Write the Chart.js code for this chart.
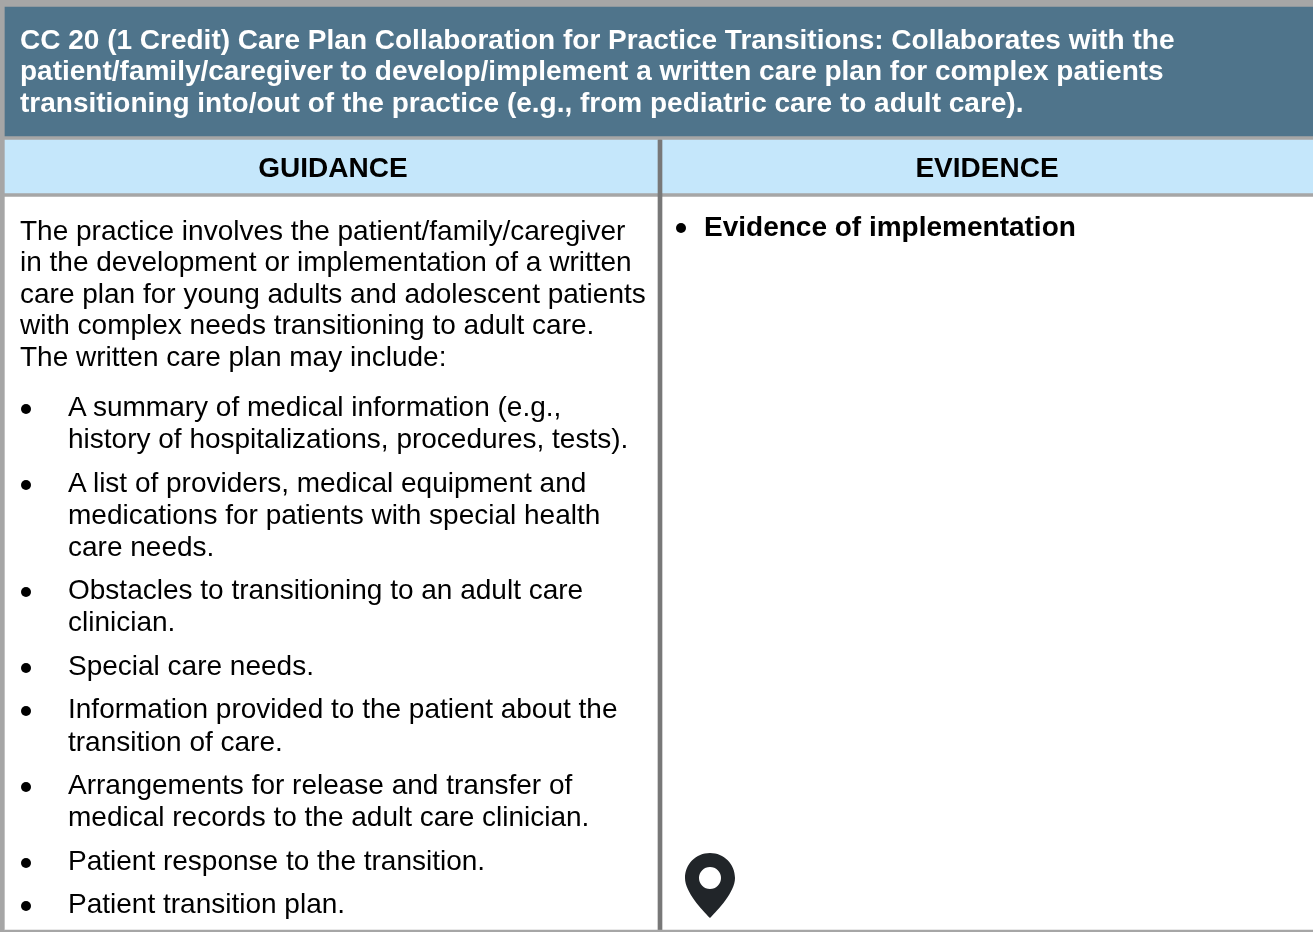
<!DOCTYPE html>
<html><head><meta charset="utf-8">
<script src="https://cdn.jsdelivr.net/npm/chart.js@4"></script>
<style>
html,body{margin:0;padding:0;background:#fff;overflow:hidden}
#wrap{position:relative;width:1313px;height:932px;font-family:"Liberation Sans",Arial,sans-serif}
canvas{position:absolute;left:0;top:0}
.t{position:absolute;white-space:nowrap;line-height:1;transform:translateY(-50%)}
.c{transform:translate(-50%,-50%)}
svg{position:absolute}
.b{position:absolute;width:10px;height:10px;border-radius:50%;background:#000;transform:translate(-50%,-50%)}
</style></head><body>
<div id="wrap"><canvas id="c" width="1313" height="932"></canvas></div>
<script>
const panelNames=["frame","title","guidanceHead","evidenceHead","guidanceBody","evidenceBody","divider","bottomRule"];
const panelLeft=[0,5,5,662,5,662,658,5];
const panelRight=[1313,1313,658,1313,658,1313,662,1313];
const panelTop=[0,7,140,140,197,197,140,930];
const panelBottom=[932,136,193,193,930,930,930,932];
const panelColors=["#a6a6a6","#4f748b","#c5e7fb","#c5e7fb","#ffffff","#ffffff","#787878","#a6a6a6"];

const titleLines=["CC 20 (1 Credit) Care Plan Collaboration for Practice Transitions: Collaborates with the",
"patient/family/caregiver to develop/implement a written care plan for complex patients",
"transitioning into/out of the practice (e.g., from pediatric care to adult care)."];
const titleY=[40,71,103];
const headLabels=["GUIDANCE","EVIDENCE"];
const headX=[333,987];
const introLines=["The practice involves the patient/family/caregiver","in the development or implementation of a written","care plan for young adults and adolescent patients","with complex needs transitioning to adult care.","The written care plan may include:"];
const introY=[231,262,294,325,357];
const itemLines=["A summary of medical information (e.g.,","history of hospitalizations, procedures, tests).","A list of providers, medical equipment and","medications for patients with special health","care needs.","Obstacles to transitioning to an adult care","clinician.","Special care needs.","Information provided to the patient about the","transition of care.","Arrangements for release and transfer of","medical records to the adult care clinician.","Patient response to the transition.","Patient transition plan."];
const itemY=[407,439,483,515,547,590,622,666,709,742,785,817,861,904];
const bulletFlags=[1,0,1,0,0,1,0,1,1,0,1,0,1,1];
const evidenceText="Evidence of implementation";

new Chart(document.getElementById('c'),{
 type:'bar',
 data:{datasets:panelNames.map((n,i)=>({
   label:n,
   data:[{x:(panelLeft[i]+panelRight[i])/2,y:[panelBottom[i],panelTop[i]]}],
   backgroundColor:panelColors[i],
   barThickness:panelRight[i]-panelLeft[i],
   grouped:false,borderWidth:0,order:panelNames.length-i
 }))},
 options:{responsive:false,animation:false,
  layout:{padding:0},
  plugins:{legend:{display:false},tooltip:{enabled:false}},
  scales:{x:{type:'linear',min:0,max:1313,display:false,offset:false},
          y:{type:'linear',min:0,max:932,reverse:true,display:false}}}
});

const wrap=document.getElementById('wrap');
function put(s,x,y,size,opt={}){
 const d=document.createElement('div');d.className='t'+(opt.center?' c':'');
 d.textContent=s;d.style.left=x+'px';d.style.top=y+'px';d.style.fontSize=size+'px';
 if(opt.bold)d.style.fontWeight='700';d.style.color=opt.color||'#000';wrap.appendChild(d);
}
function dot(x,y){const d=document.createElement('div');d.className='b';d.style.left=x+'px';d.style.top=y+'px';wrap.appendChild(d);}
titleLines.forEach((s,i)=>put(s,20,titleY[i],28,{bold:true,color:'#fff'}));
headLabels.forEach((s,i)=>put(s,headX[i],168,28,{bold:true,center:true}));
introLines.forEach((s,i)=>put(s,20,introY[i],28));
itemLines.forEach((s,i)=>{put(s,68,itemY[i],28);if(bulletFlags[i])dot(26,itemY[i]+2);});
dot(681,228);
put(evidenceText,704,227,28,{bold:true});
wrap.insertAdjacentHTML('beforeend','<svg style="left:685px;top:853px" width="50" height="66" viewBox="0 0 50 66"><path fill="#212529" fill-rule="evenodd" d="M25 0C11 0 0 11 0 25C0 39 17 57 25 65C33 57 50 39 50 25C50 11 39 0 25 0ZM25 14A11 11 0 1 1 25 36A11 11 0 1 1 25 14Z"/></svg>');
</script></body></html>
